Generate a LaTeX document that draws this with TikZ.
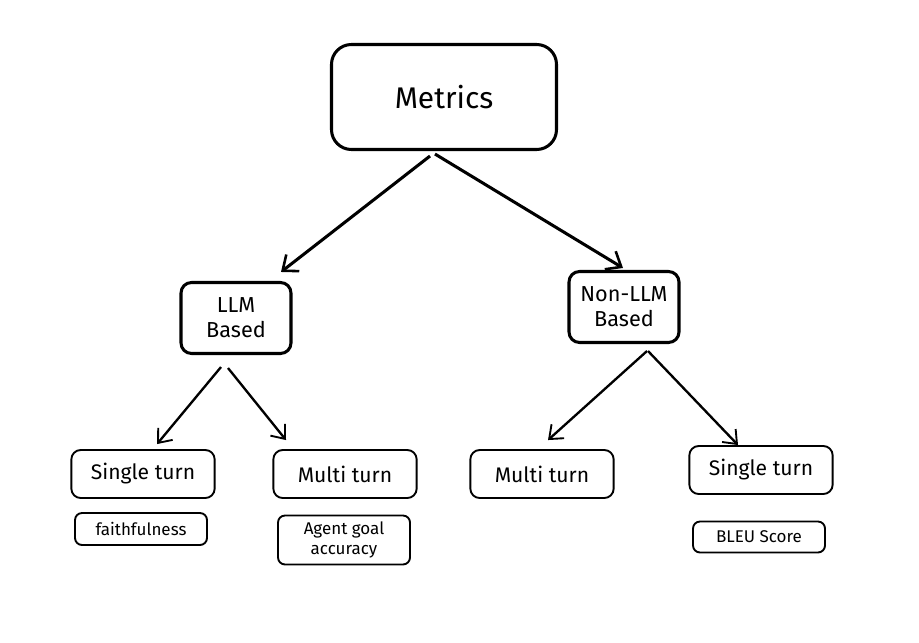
\documentclass[tikz,border=0pt]{standalone}
\usepackage{fontspec}
\setmainfont{Fira Sans}
\usetikzlibrary{arrows.meta, calc}

\begin{document}
\begin{tikzpicture}[x=0.03cm, y=-0.03cm,
    rootbox/.style={draw, line width=2.6pt, rounded corners=17pt, minimum width=6.75cm, minimum height=3.15cm, font=\fontsize{25.5}{30}\selectfont},
    familybox/.style={draw, line width=2.6pt, rounded corners=9pt, minimum width=3.3cm, minimum height=2.13cm, align=center, inner sep=0pt, font=\fontsize{18.5}{21.5}\selectfont},
    leafbox/.style={draw, line width=1.6pt, rounded corners=8pt, minimum width=4.3cm, minimum height=1.44cm, font=\fontsize{18}{21}\selectfont},
    scorebox/.style={draw, line width=1.6pt, rounded corners=6pt, minimum width=3.96cm, align=center, inner sep=0pt, font=\fontsize{14.5}{17}\selectfont},
    bigarrow/.style={line width=2.6pt, -{Straight Barb[length=11pt, width=18pt, line width=2.2pt]}},
    smallarrow/.style={line width=2pt, -{Straight Barb[length=10pt, width=16pt, line width=1.6pt]}}]
    \useasboundingbox (0,0) rectangle (919,643);
    % Root
    \node[rootbox] (Metrics) at (444,97) {Metrics};
    % Metric families
    \foreach \name/\i/\x/\y in {{LLM\\Based}/1/236/318, {Non-LLM\\Based}/2/624/307} {
        \node[familybox] (Family-\i) at (\x,\y) {\name};
    }
    % Turn types
    \foreach \name/\i/\x/\y in {Single turn/1/143/474, Multi turn/2/345/474, Multi turn/3/542/474, Single turn/4/761/470} {
        \node[leafbox] (Turn-\i) at (\x,\y) {\name};
    }
    % Example metrics
    \node[scorebox, minimum height=0.96cm] (Score-1) at (141,529) {faithfulness};
    \node[scorebox, minimum height=1.47cm] (Score-2) at (344,540) {Agent goal\\accuracy};
    \node[scorebox, minimum height=0.93cm] (Score-4) at (759,537) {BLEU Score};
    % Arrows
    \draw[bigarrow] ($(Metrics.south)+(-14,5)$) -- ($(Family-1.north)+(45,-9)$);
    \draw[bigarrow] ($(Metrics.south)+(-9,3)$) -- ($(Family-2.north)+(-1,-2)$);
    \draw[smallarrow] ($(Family-1.south)+(-15,12)$) -- ($(Turn-1.north)+(14,-5)$);
    \draw[smallarrow] ($(Family-1.south)+(-8,13)$) -- ($(Turn-2.north)+(-59,-9)$);
    \draw[smallarrow] ($(Family-2.south)+(23,7)$) -- ($(Turn-3.north)+(6,-9)$);
    \draw[smallarrow] ($(Family-2.south)+(24,7)$) -- ($(Turn-4.north)+(-23,0)$);
\end{tikzpicture}
\end{document}
